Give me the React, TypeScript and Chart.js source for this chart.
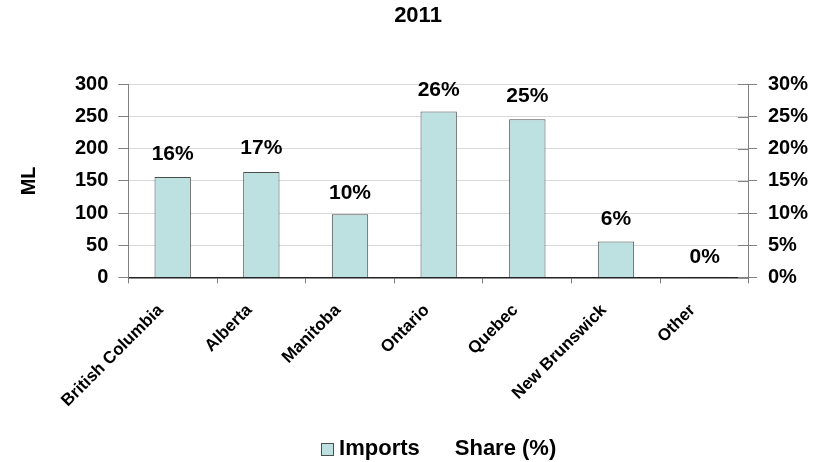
import React, { useEffect, useRef } from "react";
import { Chart, registerables } from "chart.js";

Chart.register(...registerables);

const categories = ["British Columbia", "Alberta", "Manitoba", "Ontario", "Quebec", "New Brunswick", "Other"];
const imports = [156, 164, 98, 258, 246, 56, 1];
const sharePct = [16, 17, 10, 26, 25, 6, 0];
const seriesNames = ["Imports", "Share (%)"];
const chartTitle = "2011";
const yTitle = "ML";

const FONT = "'Liberation Sans', Arial, sans-serif";
const BAR_FILL = "#bde0e1";
const BAR_EDGE = "#4d4d4d";

const shareLabels = {
  id: "shareLabels",
  afterDatasetsDraw(chart: any) {
    const meta = chart.getDatasetMeta(1);
    const ctx = chart.ctx;
    ctx.save();
    ctx.font = `bold 21px ${FONT}`;
    ctx.fillStyle = "#000";
    ctx.textAlign = "center";
    ctx.textBaseline = "middle";
    meta.data.forEach((pt: any, i: number) => {
      ctx.fillText(sharePct[i] + "%", pt.x, pt.y - 20);
    });
    // inner part of right-axis ticks
    const y1 = chart.scales.y1;
    const right = chart.chartArea.right;
    ctx.strokeStyle = "#808080";
    ctx.lineWidth = 1;
    y1.ticks.forEach((t: any) => {
      const yy = Math.round(y1.getPixelForValue(t.value)) + 0.5;
      ctx.beginPath();
      ctx.moveTo(right - 11, yy);
      ctx.lineTo(right, yy);
      ctx.stroke();
    });
    ctx.restore();
  },
};

const customLegend = {
  id: "customLegend",
  afterDraw(chart: any) {
    const ctx = chart.ctx;
    const ca = chart.chartArea;
    ctx.save();
    ctx.font = `bold 22px ${FONT}`;
    ctx.textBaseline = "middle";
    ctx.textAlign = "left";
    const box = 12;
    const gapBoxText = 6;
    const gapItems = 35;
    const w0 = ctx.measureText(seriesNames[0]).width;
    const w1 = ctx.measureText(seriesNames[1]).width;
    const total = box + gapBoxText + w0 + gapItems + w1;
    const cy = 449;
    let x = (ca.left + ca.right) / 2 - total / 2;
    ctx.fillStyle = BAR_FILL;
    ctx.fillRect(x, cy - box / 2, box, box);
    ctx.strokeStyle = BAR_EDGE;
    ctx.lineWidth = 1;
    ctx.strokeRect(Math.round(x) + 0.5, Math.round(cy - box / 2) + 0.5, box, box);
    x += box + gapBoxText;
    ctx.fillStyle = "#000";
    ctx.fillText(seriesNames[0], x, cy);
    x += w0 + gapItems;
    ctx.fillText(seriesNames[1], x, cy);
    ctx.restore();
  },
};

export default function App() {
  const ref = useRef<HTMLCanvasElement>(null);
  useEffect(() => {
    if (!ref.current) return;
    const chart = new Chart(ref.current, {
      type: "bar",
      data: {
        labels: categories,
        datasets: [
          {
            type: "bar",
            label: seriesNames[0],
            data: imports,
            yAxisID: "y",
            backgroundColor: BAR_FILL,
            borderColor: BAR_EDGE,
            borderWidth: 1,
            barPercentage: 0.41,
            categoryPercentage: 1,
            order: 2,
          },
          {
            type: "line",
            label: seriesNames[1],
            data: sharePct,
            yAxisID: "y1",
            showLine: false,
            pointRadius: 0,
            pointHoverRadius: 0,
            borderColor: "transparent",
            backgroundColor: "transparent",
            order: 1,
          },
        ] as any,
      },
      options: {
        responsive: false,
        animation: false,
        layout: { padding: { left: 17, right: 10, top: 0, bottom: 34 } },
        plugins: {
          title: {
            display: true,
            text: chartTitle,
            color: "#000",
            font: { family: FONT, size: 22, weight: "bold" },
            padding: { top: 3, bottom: 55 },
          },
          legend: { display: false },
          tooltip: { enabled: false },
        },
        scales: {
          x: {
            offset: true,
            grid: {
              offset: true,
              drawOnChartArea: false,
              tickLength: 6,
              tickColor: "#808080",
            },
            border: { color: "#222", width: 1.5 },
            ticks: {
              color: "#000",
              font: { family: FONT, size: 17, weight: "bold" },
              minRotation: 45,
              maxRotation: 45,
              padding: 17,
              labelOffset: -12,
            },
          },
          y: {
            position: "left",
            min: 0,
            max: 300,
            ticks: {
              stepSize: 50,
              color: "#000",
              font: { family: FONT, size: 20, weight: "bold" },
              padding: 10,
            },
            grid: { color: "#d9d9d9", tickColor: "#808080", tickLength: 10 },
            border: { color: "#808080" },
            title: {
              display: true,
              text: yTitle,
              color: "#000",
              font: { family: FONT, size: 20, weight: "bold" },
              padding: { top: 0, bottom: 24 },
            },
          },
          y1: {
            position: "right",
            min: 0,
            max: 30,
            ticks: {
              stepSize: 5,
              color: "#000",
              font: { family: FONT, size: 20, weight: "bold" },
              padding: 11,
              callback: (v: any) => v + "%",
            },
            grid: { drawOnChartArea: false, tickColor: "#808080", tickLength: 8 },
            border: { color: "#808080" },
          },
        },
      } as any,
      plugins: [shareLabels, customLegend],
    });
    return () => chart.destroy();
  }, []);
  return (
    <div style={{ position: "fixed", left: 0, top: 0, width: 829, height: 462, background: "#fff" }}>
      <canvas ref={ref} width={829} height={462} style={{ width: 829, height: 462 }} />
    </div>
  );
}
